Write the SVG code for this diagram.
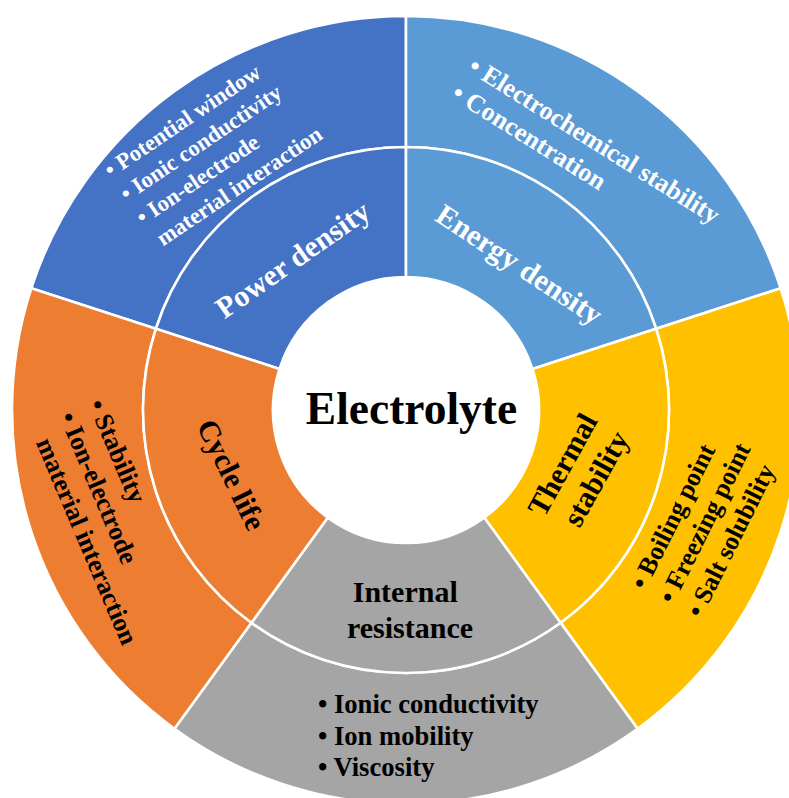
<svg xmlns="http://www.w3.org/2000/svg" width="789" height="798" viewBox="0 0 789 798">
  <style>
    .seg { stroke: #ffffff; stroke-width: 2.6; stroke-linejoin: round; }
    .power { fill: #4472C4; }
    .energy { fill: #5B9BD5; }
    .thermal { fill: #FFC000; }
    .resist { fill: #A5A5A5; }
    .cycle { fill: #ED7D31; }
    text { font-family: "Liberation Serif", "Times New Roman", serif; font-weight: bold; }
    .light { fill: #ffffff; }
    .dark { fill: #000000; }
    .label { font-size: 30px; text-anchor: middle; }
    .hub { font-size: 45.5px; text-anchor: middle; fill: #000000; }
  </style>
  <rect width="789" height="798" fill="#ffffff"/>

  <!-- Ring geometry: centre (406,410), radii 133 / 263 / 394, five 72-degree sectors -->

  <g id="power-density">
    <path class="seg power" d="M 406,16 A 394 394 0 0 0 31.28,288.25 L 155.87,328.73 A 263 263 0 0 1 406,147 Z"/>
    <path class="seg power" d="M 406,147 A 263 263 0 0 0 155.87,328.73 L 279.51,368.90 A 133 133 0 0 1 406,277 Z"/>
    <text class="label light" transform="translate(293 260) rotate(-35)" y="9.5">Power density</text>
    <text class="light" font-size="22.8" transform="translate(110.8 178.2) rotate(-34)">
      <tspan x="0" y="0">• Potential window</tspan>
      <tspan x="0" y="28.6">• Ionic conductivity</tspan>
      <tspan x="0" y="57.2">• Ion-electrode</tspan>
      <tspan x="5" y="85.8">material interaction</tspan>
    </text>
  </g>

  <g id="energy-density">
    <path class="seg energy" d="M 780.72,288.25 A 394 394 0 0 0 406,16 L 406,147 A 263 263 0 0 1 656.13,328.73 Z"/>
    <path class="seg energy" d="M 656.13,328.73 A 263 263 0 0 0 406,147 L 406,277 A 133 133 0 0 1 532.49,368.90 Z"/>
    <text class="label light" transform="translate(519 265) rotate(33.5)" y="9.5">Energy density</text>
    <text class="light" font-size="26" transform="translate(466.8 70.8) rotate(32)">
      <tspan x="0" y="0">• Electrochemical stability</tspan>
      <tspan x="0" y="31.6">• Concentration</tspan>
    </text>
  </g>

  <g id="thermal-stability">
    <path class="seg thermal" d="M 637.59,728.75 A 394 394 0 0 0 780.72,288.25 L 656.13,328.73 A 263 263 0 0 1 560.59,622.77 Z"/>
    <path class="seg thermal" d="M 560.59,622.77 A 263 263 0 0 0 656.13,328.73 L 532.49,368.90 A 133 133 0 0 1 484.18,517.60 Z"/>
    <text class="label dark" transform="translate(581 470.5) rotate(-61)">
      <tspan x="0" y="-9">Thermal</tspan>
      <tspan x="0" y="27">stability</tspan>
    </text>
    <text class="dark" font-size="25.8" transform="translate(645.2 591) rotate(-63.5)">
      <tspan x="0" y="0">• Boiling point</tspan>
      <tspan x="0" y="31.3">• Freezing point</tspan>
      <tspan x="0" y="62.6">• Salt solubility</tspan>
    </text>
  </g>

  <g id="internal-resistance">
    <path class="seg resist" d="M 174.41,728.75 A 394 394 0 0 0 637.59,728.75 L 560.59,622.77 A 263 263 0 0 1 251.41,622.77 Z"/>
    <path class="seg resist" d="M 251.41,622.77 A 263 263 0 0 0 560.59,622.77 L 484.18,517.60 A 133 133 0 0 1 327.82,517.60 Z"/>
    <text class="label dark">
      <tspan x="409" y="601.5">Internal</tspan>
      <tspan x="410" y="638">resistance</tspan>
    </text>
    <text class="dark" font-size="26.6">
      <tspan x="318" y="713">• Ionic conductivity</tspan>
      <tspan x="318" y="744.5">• Ion mobility</tspan>
      <tspan x="318" y="776">• Viscosity</tspan>
    </text>
  </g>

  <g id="cycle-life">
    <path class="seg cycle" d="M 31.28,288.25 A 394 394 0 0 0 174.41,728.75 L 251.41,622.77 A 263 263 0 0 1 155.87,328.73 Z"/>
    <path class="seg cycle" d="M 155.87,328.73 A 263 263 0 0 0 251.41,622.77 L 327.82,517.60 A 133 133 0 0 1 279.51,368.90 Z"/>
    <text class="label dark" transform="translate(231 475) rotate(64)" y="9.5">Cycle life</text>
    <text class="dark" font-size="26" transform="translate(88 404.1) rotate(67)">
      <tspan x="0" y="0">• Stability</tspan>
      <tspan x="0" y="31.6">• Ion-electrode</tspan>
      <tspan x="15" y="63.2">material interaction</tspan>
    </text>
  </g>

  <g id="electrolyte">
    <text class="hub" x="411.5" y="424">Electrolyte</text>
  </g>
</svg>
